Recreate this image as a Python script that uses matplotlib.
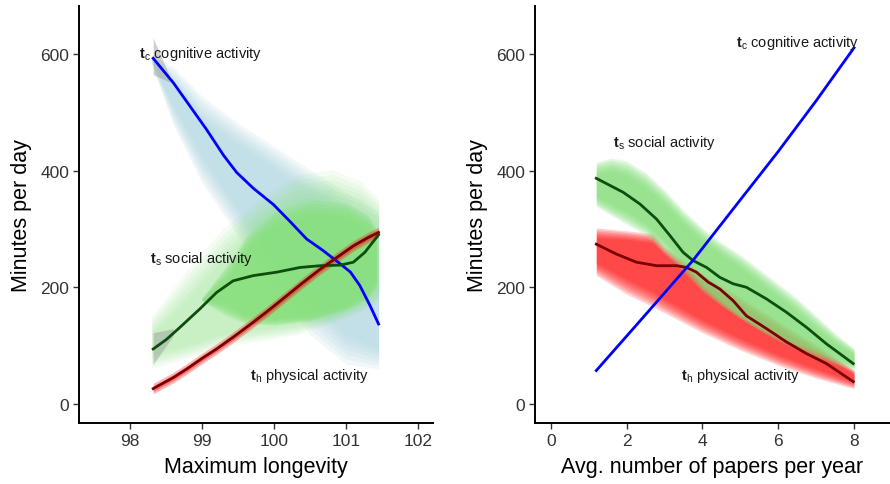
import numpy as np
import matplotlib
matplotlib.use("Agg")
import matplotlib.pyplot as plt

plt.rcParams["font.family"] = ["Liberation Sans", "DejaVu Sans"]
plt.rcParams["mathtext.fontset"] = "custom"
plt.rcParams["mathtext.rm"] = "Liberation Sans"
plt.rcParams["mathtext.bf"] = "Liberation Sans:bold"

# ---- left panel: maximum longevity ----
lon_x = [98.32, 98.6, 98.83, 99.06, 99.3, 99.48, 99.71, 99.99, 100.22, 100.45, 100.68, 100.92, 101.06, 101.19, 101.33, 101.45]
lon_cog = [593, 551, 511, 471, 426, 397, 370, 342, 313, 283, 263, 240, 226, 203, 169, 137]

lon_xs = [98.32, 98.5, 98.69, 98.97, 99.2, 99.43, 99.71, 100.04, 100.36, 100.64, 100.92, 101.1, 101.26, 101.45]
lon_soc = [94, 110, 131, 163, 191, 211, 220, 226, 234, 237, 238, 243, 260, 290]

lon_xp = [98.32, 98.6, 98.79, 99.0, 99.2, 99.45, 99.71, 99.95, 100.18, 100.4, 100.64, 100.87, 101.1, 101.3, 101.45]
lon_phy = [26, 45, 60, 78, 94, 116, 140, 163, 186, 208, 231, 251, 271, 285, 294]

# point clouds, read as envelopes (sparse outer edge -> dense core)
lcog_x = [98.3, 98.6, 99.0, 99.5, 100.0, 100.5, 101.0, 101.45]
lcog_out_hi = [600, 578, 528, 482, 442, 402, 362, 330]
lcog_out_lo = [582, 478, 378, 288, 198, 118, 68, 60]
lcog_core_hi = [592, 548, 488, 445, 405, 360, 318, 268]
lcog_core_lo = [588, 512, 425, 335, 255, 178, 118, 95]

lsoc_x = [98.3, 98.8, 99.3, 99.8, 100.3, 100.8, 101.2, 101.45]
lsoc_out_hi = [150, 232, 302, 352, 392, 402, 382, 352]
lsoc_out_lo = [60, 78, 98, 108, 118, 138, 158, 178]
lsoc_in_hi = [120, 180, 250, 315, 350, 360, 345, 320]
lsoc_in_lo = [85, 100, 120, 128, 135, 150, 170, 192]

# dense green blob on the right of the left panel
lden_x = [99.0, 99.35, 99.6, 100.0, 100.5, 101.0, 101.3, 101.42]
lden_out_hi = [182, 240, 285, 330, 350, 345, 325, 300]
lden_out_lo = [176, 150, 138, 135, 142, 160, 180, 200]
lden_core_hi = [179, 215, 262, 302, 322, 318, 302, 285]
lden_core_lo = [179, 172, 152, 146, 152, 170, 192, 215]

# ---- right panel: papers per year ----
pap_xc = [1.2, 2.5, 3.75, 5.0, 6.0, 7.0, 8.0]
pap_cog = [57, 153, 246, 350, 433, 520, 611]

pap_x = [1.2, 1.91, 2.35, 2.79, 3.14, 3.49, 3.75, 4.11, 4.46, 4.81, 5.16, 5.69, 6.22, 6.75, 7.27, 7.98]
pap_soc = [387, 363, 343, 317, 289, 260, 246, 234, 217, 206, 200, 180, 157, 131, 103, 69]

pap_xp = [1.2, 1.73, 2.26, 2.79, 3.32, 3.58, 3.84, 4.15, 4.46, 4.81, 5.16, 5.69, 6.22, 6.75, 7.27, 7.98]
pap_phy = [274, 257, 243, 237, 237, 234, 226, 209, 197, 177, 151, 129, 106, 86, 69, 38]

rsoc_x = [1.2, 1.6, 2.0, 2.5, 3.0, 3.5, 4.0, 4.5, 5.0, 5.5, 6.0, 6.5, 7.0, 7.5, 8.0]
rsoc_out_hi = [415, 422, 417, 397, 367, 332, 302, 277, 256, 231, 206, 181, 151, 121, 95]
rsoc_out_lo = [338, 323, 308, 290, 260, 226, 193, 168, 146, 126, 108, 93, 80, 68, 58]
rsoc_core_hi = [395, 400, 392, 372, 343, 310, 280, 256, 234, 209, 184, 158, 130, 104, 84]
rsoc_core_lo = [356, 342, 330, 310, 280, 245, 206, 178, 153, 133, 118, 104, 92, 80, 68]

rphy_x = [1.2, 2.0, 2.7, 3.0, 4.0, 5.0, 6.0, 7.0, 8.0]
rphy_out_hi = [302, 297, 292, 270, 224, 184, 142, 102, 58]
rphy_out_lo = [220, 188, 166, 156, 122, 92, 66, 44, 26]
rphy_core_hi = [285, 282, 276, 256, 210, 168, 128, 90, 50]
rphy_core_lo = [242, 214, 192, 180, 144, 112, 84, 60, 38]

BLUE = "#0000ff"
DGREEN = "#0d4d0d"
DRED = "#7a0000"
LBLUE = "#a6d3dd"
LGREEN = "#86e07b"
RED = "#ff1010"
TXT = "#1a1a1a"


def cloud(ax, x, out_lo, out_hi, core_lo, core_hi, color, alpha, n=7):
    # nested fills from the sparse edge to the dense core
    xx = np.linspace(min(x), max(x), 300)
    olo, ohi = np.interp(xx, x, out_lo), np.interp(xx, x, out_hi)
    clo, chi = np.interp(xx, x, core_lo), np.interp(xx, x, core_hi)
    for t in np.linspace(0, 1, n):
        ax.fill_between(xx, olo + t * (clo - olo), ohi + t * (chi - ohi),
                        color=color, alpha=alpha, lw=0)


def style(ax, xlabel):
    for s in ["top", "right"]:
        ax.spines[s].set_visible(False)
    for s in ["left", "bottom"]:
        ax.spines[s].set_linewidth(1.4)
        ax.spines[s].set_color("black")
    ax.tick_params(length=4, width=1.0, color="#333333", labelsize=12.5,
                   labelcolor="#333333", pad=3)
    ax.set_xlabel(xlabel, fontsize=15.5, color="black", labelpad=6)
    ax.set_ylabel("Minutes per day", fontsize=15.5, color="black", labelpad=6)
    ax.set_ylim(-33, 683)
    ax.set_yticks([0, 200, 400, 600])


fig = plt.figure(figsize=(8.9, 4.85), dpi=100)
ax1 = fig.add_axes([0.0888, 0.1258, 0.398, 0.86])
ax2 = fig.add_axes([0.601, 0.1258, 0.399, 0.86])

LW = 2.0
# left panel
cloud(ax1, lcog_x, lcog_out_lo, lcog_out_hi, lcog_core_lo, lcog_core_hi, LBLUE, 0.14)
cloud(ax1, lsoc_x, lsoc_out_lo, lsoc_out_hi, lsoc_in_lo, lsoc_in_hi, LGREEN, 0.09, n=6)
cloud(ax1, lden_x, lden_out_lo, lden_out_hi, lden_core_lo, lden_core_hi, LGREEN, 0.28, n=6)
xp = np.linspace(lon_xp[0], lon_xp[-1], 200)
yp = np.interp(xp, lon_xp, lon_phy)
ax1.fill_between(xp, yp - 9, yp + 9, color=RED, alpha=0.3, lw=0)
ax1.fill_between(xp, yp - 5, yp + 5, color=RED, alpha=0.4, lw=0)

# gray confidence ribbons at the left ends
ax1.fill_between([98.32, 98.55], [565, 552], [628, 562], color="#999999", alpha=0.45, lw=0)
ax1.fill_between([98.32, 98.6], [68, 117], [122, 129], color="#999999", alpha=0.45, lw=0)

ax1.plot(lon_x, lon_cog, color=BLUE, lw=LW, solid_joinstyle="round")
ax1.plot(lon_xs, lon_soc, color=DGREEN, lw=LW, solid_joinstyle="round")
ax1.plot(lon_xp, lon_phy, color=DRED, lw=LW, solid_joinstyle="round")

ax1.text(98.12, 602, r"$\mathbf{t}_{\mathrm{c}}$ cognitive activity", fontsize=10.5, color=TXT, va="center")
ax1.text(98.28, 250, r"$\mathbf{t}_{\mathrm{s}}$ social activity", fontsize=10.5, color=TXT, va="center")
ax1.text(99.67, 50, r"$\mathbf{t}_{\mathrm{h}}$ physical activity", fontsize=10.5, color=TXT, va="center")

ax1.set_xlim(97.29, 102.21)
ax1.set_xticks([98, 99, 100, 101, 102])
style(ax1, "Maximum longevity")

# right panel
cloud(ax2, rphy_x, rphy_out_lo, rphy_out_hi, rphy_core_lo, rphy_core_hi, RED, 0.18)
cloud(ax2, rsoc_x, rsoc_out_lo, rsoc_out_hi, rsoc_core_lo, rsoc_core_hi, LGREEN, 0.22)

ax2.plot(pap_x, pap_soc, color=DGREEN, lw=LW, solid_joinstyle="round")
ax2.plot(pap_xp, pap_phy, color=DRED, lw=LW, solid_joinstyle="round")
ax2.plot(pap_xc, pap_cog, color=BLUE, lw=LW, solid_joinstyle="round")

ax2.text(4.88, 621, r"$\mathbf{t}_{\mathrm{c}}$ cognitive activity", fontsize=10.5, color=TXT, va="center")
ax2.text(1.64, 450, r"$\mathbf{t}_{\mathrm{s}}$ social activity", fontsize=10.5, color=TXT, va="center")
ax2.text(3.43, 50, r"$\mathbf{t}_{\mathrm{h}}$ physical activity", fontsize=10.5, color=TXT, va="center")

ax2.set_xlim(-0.42, 8.95)
ax2.set_xticks([0, 2, 4, 6, 8])
style(ax2, "Avg. number of papers per year")

fig.savefig("out.png", dpi=100)
